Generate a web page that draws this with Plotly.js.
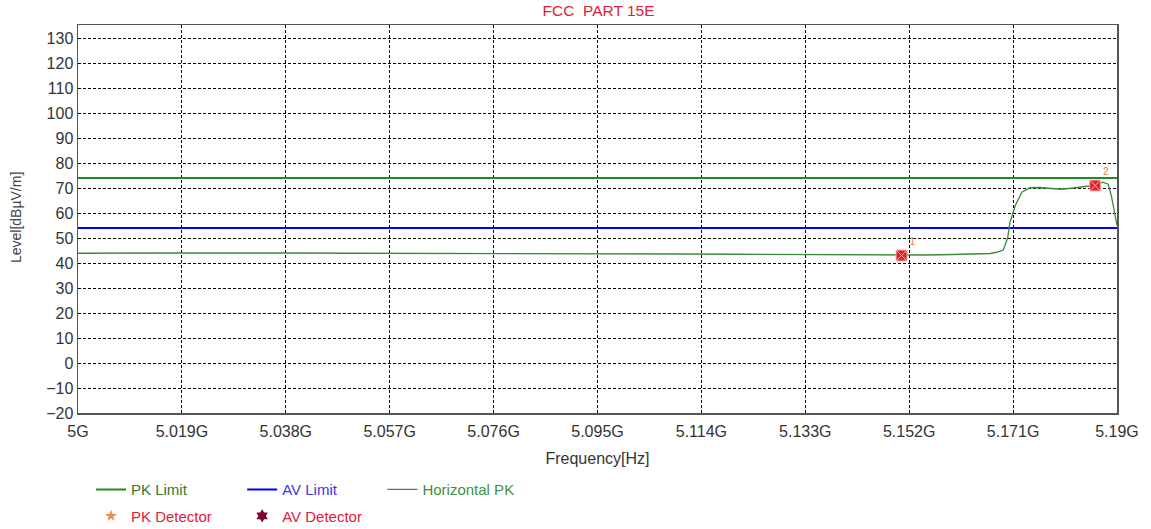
<!DOCTYPE html>
<html>
<head>
<meta charset="utf-8">
<script src="https://cdn.plot.ly/plotly-3.0.1.min.js"></script>
<style>html,body{margin:0;padding:0;background:#fff;}#chart{width:1151px;height:529px;}</style>
</head>
<body>
<div id="chart"></div>
<script>
// ---- data ----
var freqGHz = [5.000, 5.005, 5.010, 5.015, 5.020, 5.030, 5.040, 5.050, 5.060, 5.070, 5.080, 5.090, 5.100, 5.110, 5.120, 5.130, 5.140, 5.145, 5.150, 5.155, 5.160, 5.164, 5.1668, 5.1680, 5.1692, 5.1700, 5.1704, 5.1714, 5.1726, 5.1741, 5.1760, 5.1780, 5.1790, 5.1799, 5.1820, 5.1845, 5.1860, 5.1874, 5.1884, 5.1890, 5.1898, 5.1900];
var levelPK = [43.9, 44.0, 44.1, 44.0, 44.0, 44.1, 44.0, 43.9, 43.9, 43.8, 43.8, 43.7, 43.7, 43.6, 43.5, 43.4, 43.3, 43.2, 43.2, 43.2, 43.4, 43.6, 43.8, 44.3, 45.2, 50.0, 56.0, 63.0, 68.3, 70.1, 70.2, 69.8, 69.6, 69.5, 70.0, 70.8, 71.1, 72.3, 71.5, 66.5, 57.5, 55.0];
var limitFreq = [5.000, 5.190];
var pkLimit = [74, 74];
var avLimit = [54, 54];
var detFreq = [5.1506, 5.1860];
var detLevel = [43.0, 71.0];
var detLabels = ['1', '2'];
var tickVals = [5.000, 5.019, 5.038, 5.057, 5.076, 5.095, 5.114, 5.133, 5.152, 5.171, 5.190];
var tickText = ['5G', '5.019G', '5.038G', '5.057G', '5.076G', '5.095G', '5.114G', '5.133G', '5.152G', '5.171G', '5.19G'];
var yTicks = [-20, -10, 0, 10, 20, 30, 40, 50, 60, 70, 80, 90, 100, 110, 120, 130];

var FONT = 'Liberation Sans, Arial, sans-serif';

var traces = [
  {x: limitFreq, y: pkLimit, mode: 'lines', line: {color: '#1e8c1e', width: 2},
   name: '<span style="color:#2f7a2f">PK Limit</span>', legend: 'legend', legendgroup: 'a'},
  {x: limitFreq, y: avLimit, mode: 'lines', line: {color: '#0000ff', width: 2},
   name: '<span style="color:#3a3ad8">AV Limit</span>', legend: 'legend2', legendgroup: 'b'},
  {x: freqGHz, y: levelPK, mode: 'lines', line: {color: '#3a8a3a', width: 1.3},
   name: '<span style="color:#3f8f3f">Horizontal PK</span>', legend: 'legend3', legendgroup: 'c'},
  {x: [null], y: [null], mode: 'markers', marker: {symbol: 'star', color: '#f08a50', size: 9},
   name: '<span style="color:#e0203a">PK Detector</span>', legend: 'legend', legendgroup: 'd'},
  {x: [null], y: [null], mode: 'markers', marker: {symbol: 'hexagram', color: '#800030', size: 10},
   name: '<span style="color:#e0203a">AV Detector</span>', legend: 'legend2', legendgroup: 'e'},
  {x: detFreq, y: detLevel, mode: 'markers+text', text: detLabels, textposition: 'top right',
   textfont: {size: 10, color: '#e07a40', family: FONT},
   marker: {symbol: 'square-x', color: '#e8202a', size: 11, line: {color: '#ffb0b0', width: 1}},
   showlegend: false, hoverinfo: 'skip'}
];

var legBase = {orientation: 'v', xanchor: 'left', yanchor: 'top', y: -0.155,
  bgcolor: 'rgba(0,0,0,0)', font: {size: 15, family: FONT},
  traceorder: 'grouped', tracegroupgap: 4, itemwidth: 30};

var layout = {
  width: 1151, height: 529,
  margin: {l: 78, r: 34, t: 25, b: 116, autoexpand: false},
  paper_bgcolor: '#ffffff', plot_bgcolor: '#ffffff',
  font: {family: FONT, color: '#333'},
  title: {text: 'FCC  PART 15E', font: {size: 15.5, color: '#e0203a'}, x: 0.52, xanchor: 'center', y: 0.99, yanchor: 'top'},
  xaxis: {range: [5.0, 5.19], tickvals: tickVals, ticktext: tickText, tickfont: {size: 16, color: '#333'},
    showgrid: true, gridcolor: '#000', griddash: '3px,2px', gridwidth: 1, automargin: false,
    showline: true, linecolor: '#555', linewidth: 1.5, mirror: true, zeroline: false, ticks: '', ticklabelstandoff: 3,
    title: {text: 'Frequency[Hz]', font: {size: 16, color: '#333'}, standoff: 14}},
  yaxis: {range: [-20, 135.2], tickvals: yTicks, tickfont: {size: 16, color: '#333'},
    showgrid: true, gridcolor: '#000', griddash: '3px,2px', gridwidth: 1, automargin: false,
    showline: true, linecolor: '#555', linewidth: 1.5, mirror: true, zeroline: false, ticks: ''},
  annotations: [{text: 'Level[dBµV/m]', xref: 'paper', yref: 'paper', x: -0.0597, y: 0.505,
    xanchor: 'center', yanchor: 'middle', textangle: -90, showarrow: false,
    font: {size: 14, color: '#444', family: FONT}}],
  legend: Object.assign({}, legBase, {x: 0.0125}),
  legend2: Object.assign({}, legBase, {x: 0.158}),
  legend3: Object.assign({}, legBase, {x: 0.293}),
  showlegend: true
};

Plotly.newPlot('chart', traces, layout, {displayModeBar: false, staticPlot: true});
</script>
</body>
</html>
